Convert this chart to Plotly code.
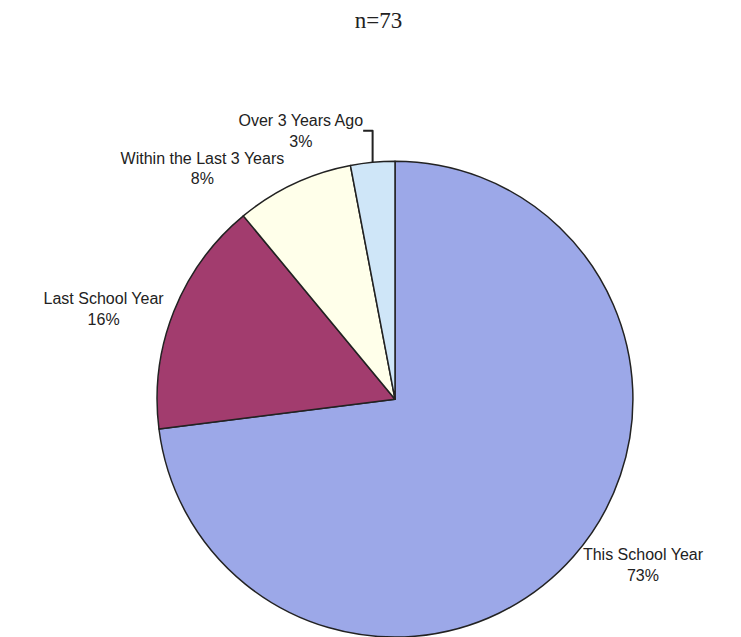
import plotly.graph_objects as go

labels = ["This School Year", "Last School Year", "Within the Last 3 Years", "Over 3 Years Ago"]
values = [73, 16, 8, 3]
colors = ["#9CA8E8", "#A23C6E", "#FFFFEA", "#CFE6F8"]

fig = go.Figure(go.Pie(
    labels=labels,
    values=values,
    sort=False,
    direction="clockwise",
    rotation=0,
    marker=dict(colors=colors, line=dict(color="#222222", width=1.5)),
    textposition="outside",
    texttemplate="%{label}<br>%{percent:.0%}",
    textfont=dict(family="Liberation Sans, Arial", size=16, color="#222222"),
    domain=dict(x=[149/741, 625/741], y=[0.0124, 0.7594]),
    showlegend=False,
    hoverinfo="label+percent",
))

fig.update_layout(
    width=741, height=637,
    margin=dict(l=0, r=0, t=0, b=0),
    paper_bgcolor="white",
    plot_bgcolor="white",
    title=dict(text="n=73", x=0.5, xanchor="center", y=0.982, yanchor="middle",
               font=dict(family="Liberation Serif, Times New Roman", size=23, color="#222222")),
)

fig.write_html("out.html")
